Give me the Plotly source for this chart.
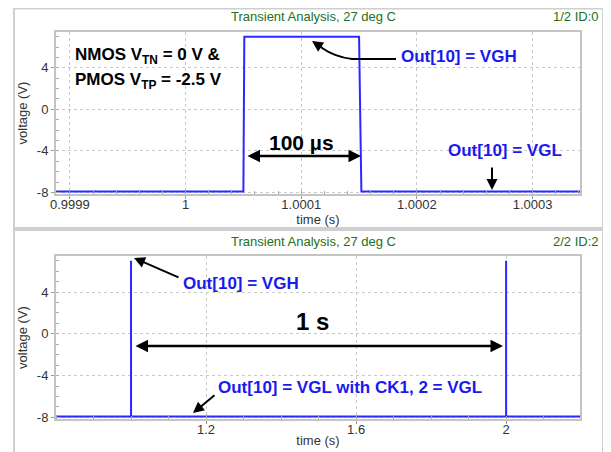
import plotly.graph_objects as go

# ---------------- data ----------------
top_time = [0.99988, 1.00005, 1.0000508, 1.00015, 1.0001520, 1.00036]
top_volt = [-7.9, -7.9, 7.0, 7.0, -7.9, -7.9]

bot_time = [0.8, 1.0, 1.0, 1.0001, 1.0001, 2.0, 2.0, 2.0001, 2.0001, 2.2]
bot_volt = [-7.9, -7.9, 7.0, 7.0, -7.9, -7.9, 7.0, 7.0, -7.9, -7.9]

top_xticks = [0.9999, 1.0, 1.0001, 1.0002, 1.0003]
top_xtext = ["0.9999", "1", "1.0001", "1.0002", "1.0003"]
bot_xticks = [1.2, 1.6, 2.0]
bot_xtext = ["1.2", "1.6", "2"]
yticks = [-8, -4, 0, 4]
ytext = ["-8", "-4", "0", "4"]

OFF = 8  # page body margin of the browser
W, H = 611 - OFF, 452 - OFF
L, R, T, B = 56, 580, 32, 419  # plot-area pixel extents (page coords)


def px(x):
    return (x - L) / (R - L)


def py(y):
    return (B - y) / (B - T)


BLUE = "#2a2aff"
TEXTBLUE = "#1a1aee"
GREEN = "#237023"
GRID = "#c8c8c8"
FONT = "Liberation Sans, Arial, sans-serif"

fig = go.Figure()
fig.add_trace(go.Scatter(x=top_time, y=top_volt, mode="lines",
                         line=dict(color=BLUE, width=2), xaxis="x", yaxis="y"))
fig.add_trace(go.Scatter(x=bot_time, y=bot_volt, mode="lines",
                         line=dict(color=BLUE, width=2), xaxis="x2", yaxis="y2"))

axcommon = dict(showline=True, linecolor="#c4c4c4", linewidth=2, mirror=True,
                showgrid=True, gridcolor=GRID, griddash="dot", gridwidth=1,
                zeroline=False, ticks="outside", ticklen=3, tickcolor="#999",
                tickfont=dict(size=13, color="#333", family=FONT),
                minor=dict(ticks="inside", ticklen=3, tickcolor="#aaa", showgrid=False))
xtitle = dict(text="time (s)", font=dict(size=13, color="#333"), standoff=0)
ytitle = dict(text="voltage (V)", font=dict(size=13, color="#333"), standoff=6)

fig.update_layout(
    width=W, height=H,
    margin=dict(l=L - OFF, r=611 - R, t=T - OFF, b=452 - B, autoexpand=False),
    paper_bgcolor="white", plot_bgcolor="white",
    showlegend=False,
    font=dict(family=FONT),
    xaxis=dict(domain=[0, 1], anchor="y", range=[0.999888, 1.000341],
               tickvals=top_xticks, ticktext=top_xtext, ticklabelstandoff=-6,
               title=xtitle, **axcommon),
    yaxis=dict(domain=[py(194), 1], anchor="x", range=[-8.15, 7.45],
               tickvals=yticks, ticktext=ytext, title=ytitle, **axcommon),
    xaxis2=dict(domain=[0, 1], anchor="y2", range=[0.8, 2.197],
                tickvals=bot_xticks, ticktext=bot_xtext, ticklabelstandoff=-6,
                title=xtitle, **axcommon),
    yaxis2=dict(domain=[0, py(256)], anchor="x2", range=[-8.15, 7.45],
                tickvals=yticks, ticktext=ytext, title=ytitle, **axcommon),
)

# panel frames
for (y0, y1) in [(8.5, 228), (230, 460)]:
    fig.add_shape(type="rect", xref="paper", yref="paper",
                  x0=px(14), x1=px(603), y0=py(y1), y1=py(y0),
                  line=dict(color="#cfcfcf", width=2), layer="below")

ann = []


def text(x, y, s, color="black", size=15, xanchor="left", bold=True):
    ann.append(dict(x=px(x), y=py(y), xref="paper", yref="paper",
                    text=f"<b>{s}</b>" if bold else s, showarrow=False,
                    xanchor=xanchor, yanchor="middle",
                    font=dict(size=size, color=color, family=FONT)))


def arrow(x0, y0, x1, y1, both=False, width=2, size=1.0):
    ann.append(dict(x=px(x1), y=py(y1), ax=x0 - x1, ay=y0 - y1,
                    xref="paper", yref="paper", axref="pixel", ayref="pixel",
                    text="", showarrow=True, arrowhead=2, arrowsize=size,
                    arrowwidth=width, arrowcolor="black",
                    arrowside="end+start" if both else "end"))


# titles
for y, right in [(17, "1/2 ID:0"), (241, "2/2 ID:2")]:
    text(313, y, "Transient Analysis, 27 deg C", GREEN, 13, "center", bold=False)
    text(601, y, right, GREEN, 13, "right", bold=False)

# top panel annotations
text(73, 56, "NMOS V<sub>TN</sub> = 0 V &", "black", 17)
text(73, 81, "PMOS V<sub>TP</sub> = -2.5 V", "black", 17)
text(399, 57, "Out[10] = VGH", TEXTBLUE, 17)
fig.add_shape(type="path", xref="paper", yref="paper",
              path=f"M {px(396)},{py(59)} L {px(352)},{py(59)} Q {px(335)},{py(57)} {px(322)},{py(48)}",
              line=dict(color="black", width=2))
arrow(324, 49, 312, 41, size=1.1)
text(301, 142, "100 µs", "black", 21, "center")
arrow(246, 156, 361, 156, both=True, width=2.5, size=1.0)
text(446, 150, "Out[10] = VGL", TEXTBLUE, 17)
arrow(492, 166, 492, 190, size=1.1)

# bottom panel annotations
text(181, 283, "Out[10] = VGH", TEXTBLUE, 17)
arrow(180, 278, 134, 258, size=1.1)
text(312, 321, "1 s", "black", 24, "center")
arrow(134, 346, 503, 346, both=True, width=2.5, size=1.0)
text(216, 387, "Out[10] = VGL with CK1, 2 = VGL", TEXTBLUE, 17)
arrow(216, 394, 193, 413, size=1.1)

fig.update_layout(annotations=ann)
fig.write_html("out.html")
